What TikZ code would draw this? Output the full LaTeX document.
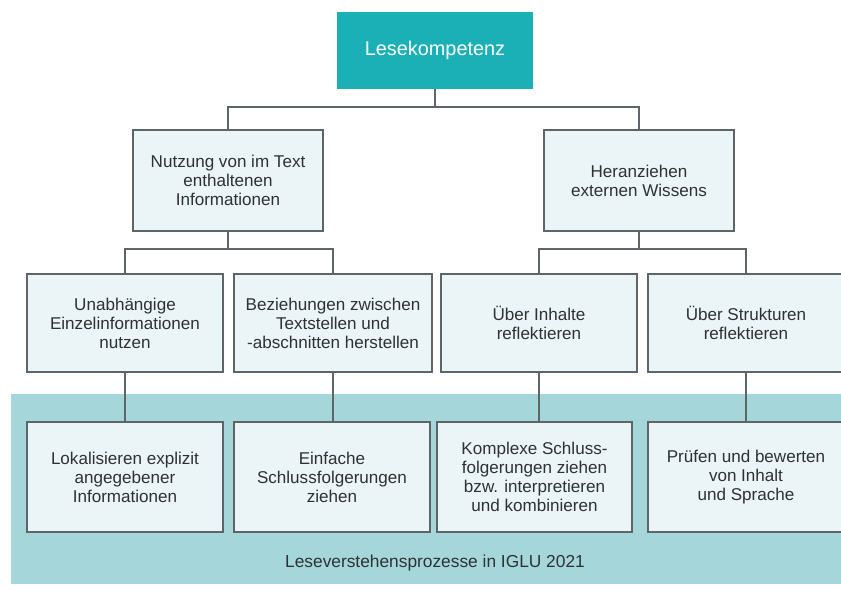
\documentclass[tikz,border=0pt]{standalone}
\usepackage{fontspec}
\setmainfont{Liberation Sans}
\usepackage{tikz}

\definecolor{tealtop}{RGB}{26,176,181}
\definecolor{tealband}{RGB}{165,215,218}
\definecolor{boxfill}{RGB}{235,244,246}
\definecolor{boxline}{RGB}{95,100,102}
\definecolor{textgray}{RGB}{45,50,52}

\tikzset{
  topbox/.style={rectangle, fill=tealtop, text=white, inner sep=0pt, align=center,
    minimum width=147pt, minimum height=57.75pt, font=\fontsize{14.9}{17}\selectfont},
  levelbox/.style={rectangle, draw=boxline, line width=1.1pt, fill=boxfill, text=textgray,
    inner sep=0pt, align=center, font=\fontsize{12.8}{14.3}\selectfont},
  branch/.style={draw=boxline, line width=1.1pt},
}

\begin{document}
\begin{tikzpicture}[x=0.75pt,y=0.75pt,yscale=-1]
\useasboundingbox (0,0) rectangle (841,589);

%Band [id:process band]
\fill [tealband] (11,394) rectangle (841,584);

% Top Node
\node [topbox] (lese) at (435,50.5) {Lesekompetenz};

% Level 2 Nodes
\node [levelbox, minimum width=142.5pt, minimum height=75.75pt] (nutz) at (228,180.5) {Nutzung von im Text\\enthaltenen\\Informationen};
\node [levelbox, minimum width=142.5pt, minimum height=75.75pt] (wiss) at (639,180.5) {Heranziehen\\externen Wissens};

% Level 3 Nodes
\node [levelbox, minimum width=147pt, minimum height=73.5pt] (unab) at (125,323) {Unabh\"angige\\Einzelinformationen\\nutzen};
\node [levelbox, minimum width=148.5pt, minimum height=73.5pt] (bezi) at (333,323) {Beziehungen zwischen\\Textstellen und\\-abschnitten herstellen};
\node [levelbox, minimum width=147pt, minimum height=73.5pt] (inha) at (539,323) {\"Uber Inhalte\\reflektieren};
\node [levelbox, minimum width=147pt, minimum height=73.5pt] (stru) at (746,323) {\"Uber Strukturen\\reflektieren};

% Level 4 Nodes
\node [levelbox, minimum width=147pt, minimum height=82.5pt] (loka) at (125,477) {Lokalisieren explizit\\angegebener\\Informationen};
\node [levelbox, minimum width=147pt, minimum height=82.5pt] (einf) at (332,477) {Einfache\\Schlussfolgerungen\\ziehen};
\node [levelbox, minimum width=146.25pt, minimum height=82.5pt] (komp) at (534.5,477) {Komplexe Schluss-\\folgerungen ziehen\\bzw. interpretieren\\und kombinieren};
\node [levelbox, minimum width=147pt, minimum height=82.5pt] (pruf) at (746,477) {Pr\"ufen und bewerten\\von Inhalt\\und Sprache};

% Text Node
\node [text=textgray, font=\fontsize{13}{15}\selectfont] (iglu) at (435,563) {Leseverstehensprozesse in IGLU 2021};

%Straight Lines [id:branches]
\coordinate (j1) at (435,107);
\draw [branch] (lese.south) -- (j1) -| (nutz.north);
\draw [branch] (j1) -| (wiss.north);
\coordinate (j2) at (228,249);
\draw [branch] (nutz.south) -- (j2) -| (unab.north);
\draw [branch] (j2) -| (bezi.north);
\coordinate (j3) at (639,249);
\draw [branch] (wiss.south) -- (j3) -| (inha.north);
\draw [branch] (j3) -| (stru.north);
\draw [branch] (unab.south) -- (unab.south |- loka.north);
\draw [branch] (bezi.south) -- (bezi.south |- einf.north);
\draw [branch] (inha.south) -- (inha.south |- komp.north);
\draw [branch] (stru.south) -- (stru.south |- pruf.north);

\end{tikzpicture}
\end{document}
